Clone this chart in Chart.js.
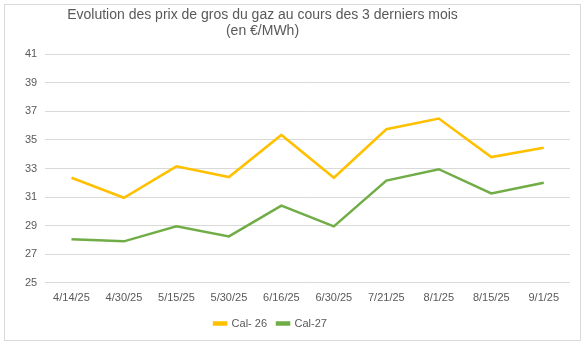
<!DOCTYPE html>
<html>
<head>
<meta charset="utf-8">
<script src="https://cdn.jsdelivr.net/npm/chart.js@4/dist/chart.umd.min.js"></script>
<style>
  html, body { margin: 0; padding: 0; background: #fff; }
  #wrap {
    position: absolute; left: 4px; top: 4px;
    width: 577px; height: 337px;
    border: 1px solid #d9d9d9; box-sizing: border-box;
  }
  canvas { display: block; }
</style>
</head>
<body>
<div id="wrap"><canvas id="chartGaz"></canvas></div>
<script>
var dates = ['4/14/25', '4/30/25', '5/15/25', '5/30/25', '6/16/25', '6/30/25', '7/21/25', '8/1/25', '8/15/25', '9/1/25'];
var cal26 = [32.35, 30.95, 33.15, 32.4, 35.35, 32.35, 35.75, 36.5, 33.8, 34.45];
var cal27 = [28.05, 27.9, 28.95, 28.25, 30.4, 28.95, 32.15, 32.95, 31.25, 32.0];
var yTicks = [25, 27, 29, 31, 33, 35, 37, 39, 41];

Chart.defaults.font.family = '"Liberation Sans", Arial, sans-serif';
Chart.defaults.color = '#595959';

// title and legend sit a bit left of the canvas centre
var shiftBlocks = {
    id: 'shiftBlocks',
    afterLayout: function (chart) {
        chart.titleBlock.left -= 31;
        chart.titleBlock.right -= 31;
        chart.legend.left -= 23;
        chart.legend.right -= 23;
    }
};

var ctx = document.getElementById('chartGaz').getContext('2d');

var myChart = new Chart(ctx, {
    type: 'line',
    data: {
        labels: dates,
        datasets: [{
            label: 'Cal- 26',
            data: cal26,
            borderColor: '#FFC000',
            backgroundColor: '#FFC000',
            borderWidth: 2.5,
            pointRadius: 0,
            tension: 0
        }, {
            label: 'Cal-27',
            data: cal27,
            borderColor: '#70AD47',
            backgroundColor: '#70AD47',
            borderWidth: 2.5,
            pointRadius: 0,
            tension: 0
        }]
    },
    options: {
        responsive: true,
        maintainAspectRatio: false,
        animation: false,
        layout: { padding: { left: 12, right: 10, top: 2, bottom: 1 } },
        plugins: {
            title: {
                display: true,
                text: ['Evolution des prix de gros du gaz au cours des 3 derniers mois', '(en €/MWh)'],
                font: { size: 14, weight: 'normal', lineHeight: 1.15 },
                color: '#595959',
                padding: { top: 0, bottom: 15 }
            },
            legend: {
                position: 'bottom',
                labels: {
                    boxWidth: 12,
                    boxHeight: 2,
                    font: { size: 11 },
                    padding: 10
                }
            },
            tooltip: { enabled: false }
        },
        scales: {
            x: {
                offset: true,
                grid: { display: false },
                border: { display: false },
                ticks: { font: { size: 11 }, maxRotation: 0, padding: 1 },
                afterFit: function (axis) {
                    axis.height += 2;
                }
            },
            y: {
                min: 25,
                max: 41,
                afterBuildTicks: function (axis) {
                    axis.ticks = yTicks.map(function (v) { return { value: v }; });
                },
                grid: { color: '#d9d9d9', drawTicks: false },
                border: { display: false },
                ticks: { font: { size: 11 }, padding: 8 }
            }
        }
    },
    plugins: [shiftBlocks]
});
</script>
</body>
</html>
